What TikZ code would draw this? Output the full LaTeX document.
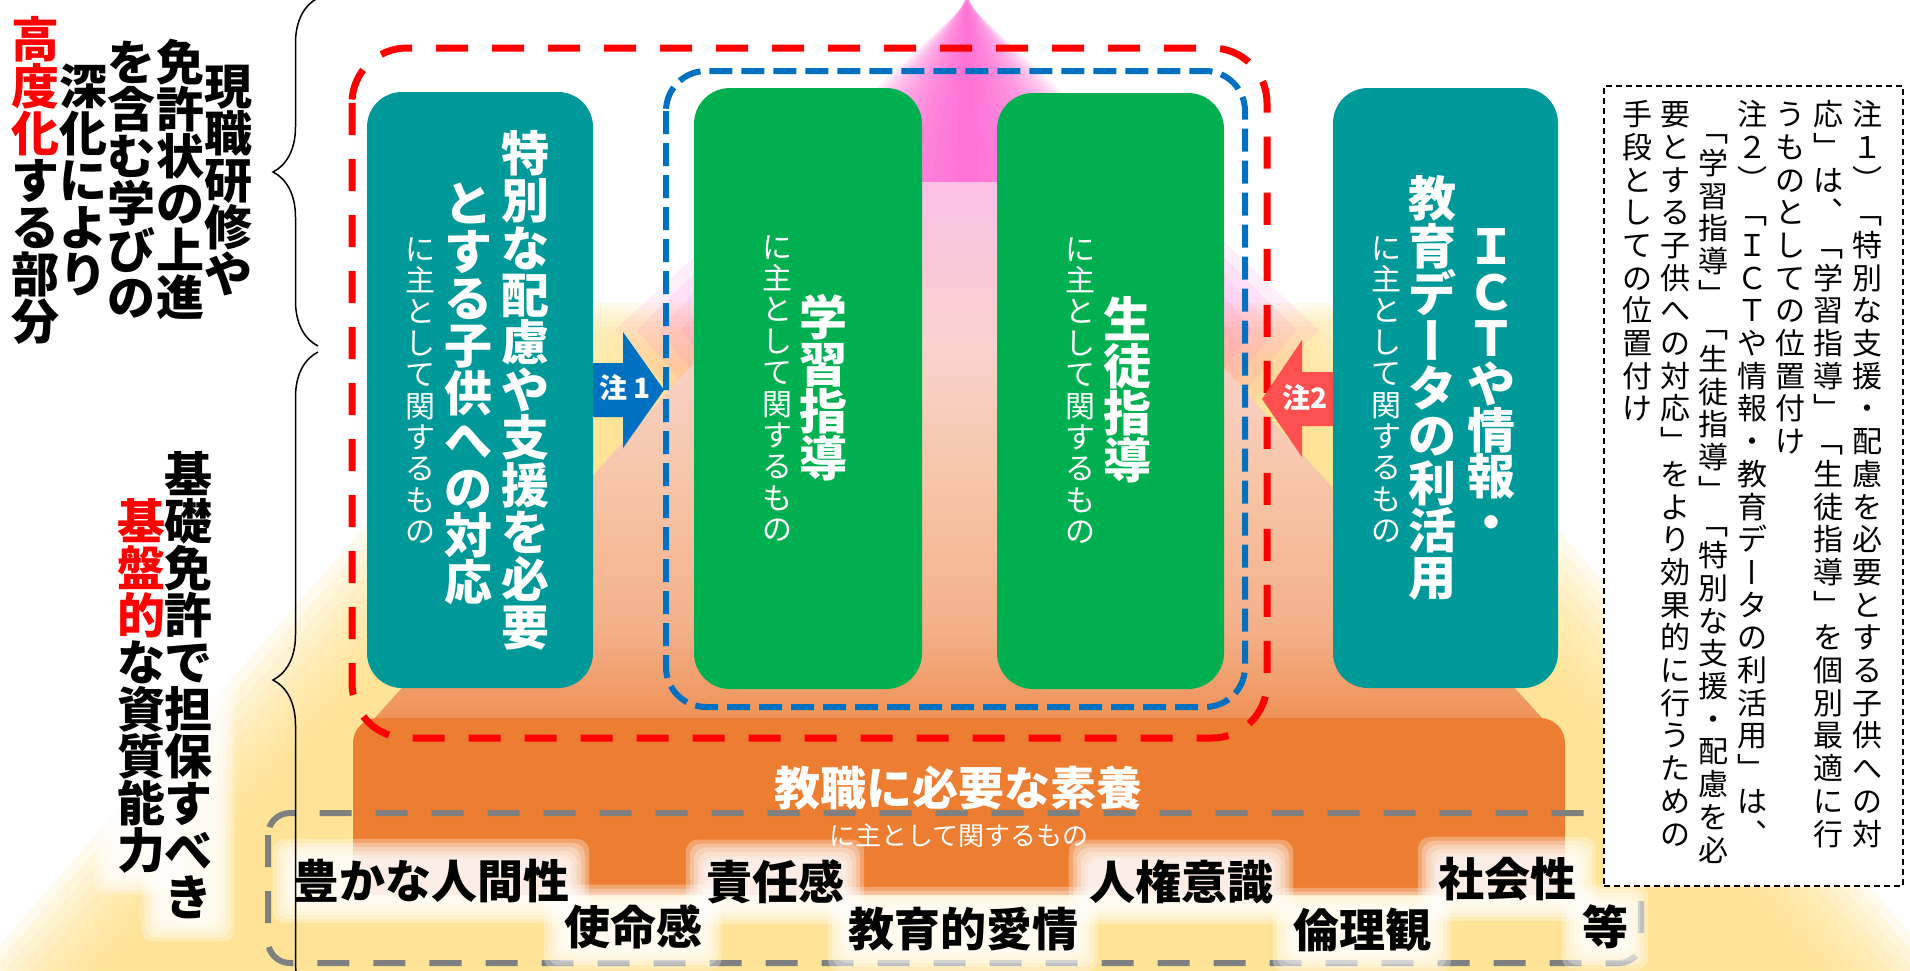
\documentclass[tikz,border=0pt]{standalone}
\usepackage{fontspec}
\usepackage{graphicx}
\newfontfamily\jp{Noto Sans CJK JP}
\usetikzlibrary{decorations.pathreplacing,calc}
\pgfdeclarelayer{front}
\pgfsetlayers{main,front}

\definecolor{teal1}{RGB}{0,153,153}
\definecolor{green1}{RGB}{0,176,80}
\definecolor{blue1}{RGB}{0,112,192}
\definecolor{red1}{RGB}{255,0,0}
\definecolor{arrowred}{RGB}{255,80,80}
\definecolor{orange1}{RGB}{237,125,49}
\definecolor{gray1}{RGB}{128,128,128}
\definecolor{yel}{RGB}{255,225,132}
\definecolor{pnk}{RGB}{255,80,208}
\definecolor{pc1}{RGB}{252,192,230}
\definecolor{pc2}{RGB}{249,210,204}
\definecolor{pc3}{RGB}{246,197,165}
\definecolor{pc4}{RGB}{243,176,137}
\definecolor{pc5}{RGB}{238,139,76}
\pgfdeclareverticalshading{peachsh}{100bp}{color(0bp)=(pc5); color(25bp)=(pc5); color(35bp)=(pc4); color(47.5bp)=(pc3); color(60bp)=(pc2); color(75bp)=(pc1); color(100bp)=(pc1)}

\makeatletter
\def\vt@end{\vt@end}
\newcommand\vtext[2]{\vbox{\baselineskip=#1\lineskiplimit=-\maxdimen\lineskip=0pt\relax\vt@go#2\vt@end}}
\def\vt@go#1{\ifx\vt@end#1\else\hbox to 1.1em{\hss#1\hss\vrule height .88em depth .12em width 0pt}\expandafter\vt@go\fi}
\makeatother
\newcommand\vbar{\rotatebox[origin=c]{-90}{\vrule height .88em depth .12em width 0pt ー}}
\newcommand\rc[1]{\color{red1}#1}
% soft white glow behind a named node
\newcommand\glow[1]{%
  \foreach \gi in {20,16,12,8,4,1} {\fill[white, opacity=0.3, rounded corners=12pt] ($(#1.south west)+(-\gi,\gi)$) rectangle ($(#1.north east)+(\gi,-\gi)$);}}

\begin{document}
\begin{tikzpicture}[x=1pt,y=-1pt,
  boxs/.style={draw=none, inner sep=0pt, rounded corners=35pt},
  bigt/.style={font=\jp\bfseries\fontsize{48}{48}\selectfont, text=white, inner sep=0pt},
  smallt/.style={font=\jp\fontsize{30}{30}\selectfont, text=white, inner sep=0pt},
  leftt/.style={font=\jp\bfseries\fontsize{48}{48}\selectfont, text=black, inner sep=0pt},
  notet/.style={font=\jp\fontsize{30}{30}\selectfont, text=black, inner sep=0pt, anchor=north},
  wordt/.style={font=\jp\bfseries\fontsize{46}{46}\selectfont, text=black, inner sep=0pt},
  arrt/.style={font=\jp\bfseries\fontsize{28}{28}\selectfont, text=white, inner sep=0pt}]

\useasboundingbox (0,0) rectangle (1910,970);
\fill[white] (0,0) rectangle (1910,970);
\clip (0,0) rectangle (1910,970);

% yellow glow
\foreach \d in {100,90,...,0} {
  \fill[yel, opacity=0.15] ({660-\d},{363-0.6*\d}) -- ({1260+\d},{363-0.6*\d}) -- ({1838+1.3*\d},1000) -- ({82-1.3*\d},1000) -- cycle;
}
% pink glow
\foreach \k in {16,15,...,1} {
  \fill[pnk, opacity=0.09] (967,{-12+\k}) -- ({967-22*\k},330) -- (967,720) -- ({967+22*\k},330) -- cycle;
}
% peach pyramid
\shade[shading=peachsh] (857,182) -- (1055,182) -- (1562,740) -- (355,740) -- cycle;
% orange base
\fill[orange1, rounded corners=25pt] (353,718) rectangle (1565,895);

% dashed groups
\draw[red1, line width=7pt, dash pattern=on 32pt off 24pt, rounded corners=55pt] (352,48) rectangle (1267,738);
\draw[blue1, line width=6pt, dash pattern=on 23pt off 9pt, rounded corners=40pt] (666,71) rectangle (1245,707);

% arrows
\fill[blue1] (588,363) -- (623,363) -- (623,332) -- (664,390) -- (623,448) -- (623,417) -- (588,417) -- cycle;
\fill[arrowred] (1336,372) -- (1302,372) -- (1302,340) -- (1262,399) -- (1302,457) -- (1302,426) -- (1336,426) -- cycle;

% boxes
\node[boxs, fill=teal1, minimum width=226pt, minimum height=596pt] (b1) at (480,390) {};
\node[boxs, fill=green1, rounded corners=36pt, minimum width=228pt, minimum height=601pt] (g1) at (808,388.5) {};
\node[boxs, fill=green1, rounded corners=36pt, minimum width=227pt, minimum height=596pt] (g2) at (1110.5,391) {};
\node[boxs, fill=teal1, minimum width=225pt, minimum height=600pt] (b2) at (1445.5,388) {};

\node[bigt] (b1a) at (525,390) {\vtext{47.4pt}{特別な配慮や支援を必要}};
\node[bigt] (b1b) at (468,393) {\vtext{47.4pt}{とする子供への対応}};
\node[smallt] (b1c) at (420,390) {\vtext{31.4pt}{に主として関するもの}};

\node[bigt] (g1a) at (823,388) {\vtext{47pt}{学習指導}};
\node[smallt] (g1b) at (777,388) {\vtext{31.4pt}{に主として関するもの}};
\node[bigt] (g2a) at (1127,390) {\vtext{47pt}{生徒指導}};
\node[smallt] (g2b) at (1080,390) {\vtext{31.4pt}{に主として関するもの}};

\node[bigt] (b2a) at (1491,384) {\vtext{46pt}{ＩＣＴや情報・}};
\node[bigt] (b2b) at (1432,388) {\vtext{47.4pt}{教育デ{\vbar}タの利活用}};
\node[smallt] (b2c) at (1386,389) {\vtext{31.4pt}{に主として関するもの}};

\node[arrt] (n1) at (625,388) {注 1};
\node[arrt] (n2) at (1305,398) {注2};

% base label
\node[wordt, text=white] (base) at (958,788) {教職に必要な素養};
\node[font=\jp\fontsize{26}{26}\selectfont, text=white, inner sep=0pt] (base2) at (959,836) {に主として関するもの};

% gray dashed
\draw[gray1, line width=6pt, dash pattern=on 32pt off 24pt, rounded corners=22pt] (268,813) rectangle (1641,963);

% words (front layer) and their glows
\begin{pgfonlayer}{front}
\node[wordt] (w1) at (431,881) {豊かな人間性};
\node[wordt] (w2) at (633,927) {使命感};
\node[wordt] (w3) at (775,882) {責任感};
\node[wordt] (w4) at (963,929) {教育的愛情};
\node[wordt] (w5) at (1181,882) {人権意識};
\node[wordt] (w6) at (1362,930) {倫理観};
\node[wordt] (w7) at (1507,879) {社会性};
\node[wordt] (w8) at (1605,927) {等};
\node[leftt] (l6) at (188,686) {\vtext{47pt}{基礎免許で担保すべき}};
\node[leftt] (l7) at (141,686) {\vtext{47pt}{{\rc{基}}{\rc{盤}}{\rc{的}}な資質能力}};
\end{pgfonlayer}
\glow{w1}\glow{w2}\glow{w3}\glow{w4}\glow{w5}\glow{w6}\glow{w7}\glow{w8}
\glow{l6}\glow{l7}

% notes box
\node[draw=black, fill=white, line width=1.5pt, dash pattern=on 6pt off 4pt, minimum width=299pt, minimum height=800pt, inner sep=0pt] (notes) at (1753.5,486) {};
\node[notet] (nc1) at (1867,99) {\vtext{32.7pt}{注１︶﹁特別な支援・配慮を必要とする子供への対}};
\node[notet] (nc2) at (1828,99) {\vtext{32.7pt}{応﹂は︑﹁学習指導﹂﹁生徒指導﹂を個別最適に行}};
\node[notet] (nc3) at (1790,99) {\vtext{32.7pt}{うものとしての位置付け}};
\node[notet] (nc4) at (1752,99) {\vtext{32.7pt}{注２︶﹁ＩＣＴや情報・教育デ{\vbar}タの利活用﹂は︑}};
\node[notet] (nc5) at (1713,115) {\vtext{32.7pt}{﹁学習指導﹂﹁生徒指導﹂﹁特別な支援・配慮を必}};
\node[notet] (nc6) at (1675,99) {\vtext{32.7pt}{要とする子供への対応﹂をより効果的に行うための}};
\node[notet] (nc7) at (1637,99) {\vtext{32.7pt}{手段としての位置付け}};

% left texts
\node[leftt] (l1) at (228,180) {\vtext{47pt}{現職研修や}};
\node[leftt] (l2) at (180,180) {\vtext{47pt}{免許状の上進}};
\node[leftt] (l3) at (131,180) {\vtext{47pt}{を含む学びの}};
\node[leftt] (l4) at (83,180) {\vtext{47pt}{深化により}};
\node[leftt] (l5) at (35,180) {\vtext{47pt}{{\rc{高}}{\rc{度}}{\rc{化}}する部分}};

% braces
\draw[decorate, decoration={brace, amplitude=45pt}, line width=1.5pt] (318,346) -- (318,-2);
\draw[decorate, decoration={brace, amplitude=45pt}, line width=1.5pt] (318,1008) -- (318,352);
\end{tikzpicture}
\end{document}
